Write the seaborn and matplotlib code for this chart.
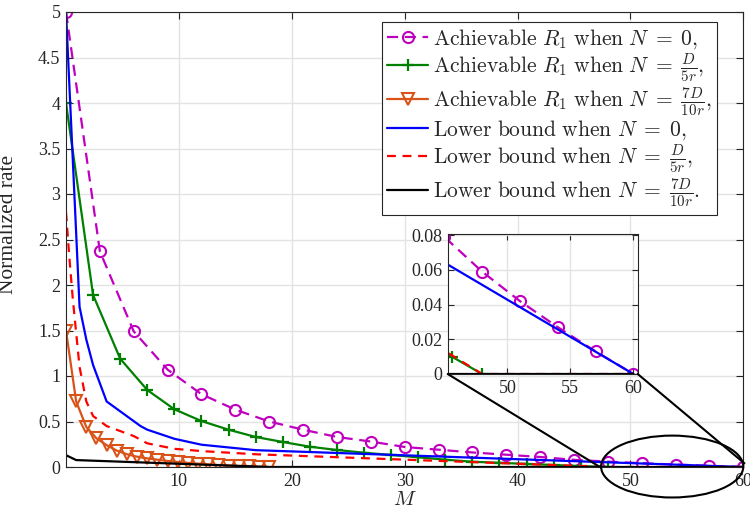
import numpy as np
import pandas as pd
import matplotlib
matplotlib.use("Agg")
import matplotlib.pyplot as plt
import seaborn as sns
from matplotlib.patches import Ellipse, ConnectionPatch

# ---------------- data ----------------
M_ach0 = [0, 3, 6, 9, 12, 15, 18, 21, 24, 27, 30, 33, 36, 39, 42, 45, 48, 51, 54, 57, 60]
R_ach0 = [5.0, 2.37, 1.49, 1.07, 0.80, 0.63, 0.50, 0.41, 0.33, 0.28, 0.22, 0.19,
          0.16, 0.135, 0.11, 0.079, 0.059, 0.042, 0.027, 0.013, 0.0]

M_ach1 = [0, 2.4, 4.8, 7.2, 9.6, 12, 14.4, 16.8, 19.2, 21.6, 24, 26.4, 28.8, 31.2,
          33.6, 36, 38.4, 40.8, 43.2, 45.6, 48]
R_ach1 = [4.0, 1.89, 1.19, 0.846, 0.634, 0.505, 0.41, 0.33, 0.275, 0.223, 0.187, 0.157,
          0.132, 0.107, 0.08, 0.058, 0.046, 0.034, 0.022, 0.010, 0.0]

M_ach2 = [0, 0.9, 1.8, 2.7, 3.6, 4.5, 5.4, 6.3, 7.2, 8.1, 9.0, 9.9, 10.8, 11.7,
          12.6, 13.5, 14.4, 15.3, 16.2, 17.1, 18]
R_ach2 = [1.5, 0.72, 0.44, 0.315, 0.24, 0.18, 0.14, 0.113, 0.095, 0.08, 0.066, 0.055,
          0.045, 0.037, 0.029, 0.022, 0.016, 0.011, 0.006, 0.003, 0.0]

M_lb0 = [0, 1.2, 1.8, 2.4, 3.6, 6.6, 7.2, 8.4, 9.6, 12, 16.8, 60]
R_lb0 = [5.0, 1.76, 1.40, 1.12, 0.72, 0.45, 0.41, 0.36, 0.31, 0.245, 0.185, 0.0]

M_lb1 = [0, 0.3, 0.6, 1.2, 1.8, 2.4, 3.6, 6.0, 7.2, 9.6, 12, 16.8, 48, 60]
R_lb1 = [2.8, 2.3, 1.85, 1.1, 0.72, 0.56, 0.45, 0.34, 0.26, 0.20, 0.175, 0.14, 0.0, 0.0]

M_lb2 = [0, 0.9, 18, 60]
R_lb2 = [0.13, 0.076, 0.0, 0.0]

labels = [
    r"$\mathrm{Achievable}\ R_1\ \mathrm{when}\ N\;=\;0,$",
    r"$\mathrm{Achievable}\ R_1\ \mathrm{when}\ N\;=\;\frac{D}{5r},$",
    r"$\mathrm{Achievable}\ R_1\ \mathrm{when}\ N\;=\;\frac{7D}{10r},$",
    r"$\mathrm{Lower\ bound\ when}\ N\;=\;0,$",
    r"$\mathrm{Lower\ bound\ when}\ N\;=\;\frac{D}{5r},$",
    r"$\mathrm{Lower\ bound\ when}\ N\;=\;\frac{7D}{10r}.$",
]

xticks_main = [10, 20, 30, 40, 50, 60]
yticks_main = [0, 0.5, 1, 1.5, 2, 2.5, 3, 3.5, 4, 4.5, 5]
yticklabels_main = ["0", "0.5", "1", "1.5", "2", "2.5", "3", "3.5", "4", "4.5", "5"]
xticks_inset = [50, 55, 60]
yticks_inset = [0, 0.02, 0.04, 0.06, 0.08]
yticklabels_inset = ["0", "0.02", "0.04", "0.06", "0.08"]

# ---------------- style ----------------
sns.set_theme(style="ticks")
plt.rcParams["font.family"] = ["Liberation Serif", "DejaVu Serif"]
plt.rcParams["mathtext.fontset"] = "cm"

series = [
    (M_ach0, R_ach0, dict(color="#bf00bf", linestyle=(0, (5, 3)), marker="o", markersize=8,
                          markerfacecolor="none", markeredgecolor="#bf00bf", markeredgewidth=1.5)),
    (M_ach1, R_ach1, dict(color="#008000", linestyle="-", marker="+", markersize=9,
                          markeredgecolor="#008000", markeredgewidth=1.6)),
    (M_ach2, R_ach2, dict(color="#D95319", linestyle="-", marker="v", markersize=8,
                          markerfacecolor="none", markeredgecolor="#D95319", markeredgewidth=1.5)),
    (M_lb0, R_lb0, dict(color="#0000ff", linestyle="-")),
    (M_lb1, R_lb1, dict(color="#ff0000", linestyle=(0, (4, 3)))),
    (M_lb2, R_lb2, dict(color="#000000", linestyle="-")),
]

fig = plt.figure(figsize=(7.5, 5.08), dpi=100)
ax = fig.add_axes([66 / 750, 1 - 467 / 508, 677.3 / 750, 455 / 508])


def draw(axis, with_labels):
    for (xs, ys, kw), lab in zip(series, labels):
        df = pd.DataFrame({"M": xs, "R": ys})
        sns.lineplot(data=df, x="M", y="R", ax=axis, errorbar=None, sort=False,
                     linewidth=1.6, label=lab if with_labels else None,
                     legend=False, **kw)


draw(ax, True)

grid_c = "#e3e3e3"
txt_c = "#262626"
ax.set_xlim(0, 60)
ax.set_ylim(0, 5)
ax.set_xticks(xticks_main)
ax.set_yticks(yticks_main)
ax.set_yticklabels(yticklabels_main)
ax.grid(True, color=grid_c, linewidth=1.0)
ax.set_axisbelow(True)
ax.tick_params(direction="in", top=True, right=True, length=5, width=0.8,
               labelsize=13, colors=txt_c, pad=4)
for sp in ax.spines.values():
    sp.set_visible(True)
    sp.set_color("#262626")
    sp.set_linewidth(0.8)
ax.set_xlabel(r"$M$", fontsize=15, color=txt_c, labelpad=0)
ax.set_ylabel("Normalized rate", fontsize=15.5, color=txt_c)
ax.yaxis.set_label_coords(-0.0716, 0.534)
ax.xaxis.set_label_coords(0.5, -0.052)

leg = ax.legend(loc="upper right", bbox_to_anchor=(0.961, 0.978), borderaxespad=0,
                fontsize=15.5, frameon=True, fancybox=False, edgecolor="#262626",
                framealpha=1, handlelength=1.9, handletextpad=0.2, labelspacing=0.02,
                borderpad=0.25)
leg.get_frame().set_linewidth(0.8)

# zoom ellipse on main axes
ell = Ellipse((53.7, 0.005), width=12.6, height=0.68, facecolor="none",
              edgecolor="black", linewidth=1.5, clip_on=False, zorder=6)
ax.add_patch(ell)

# inset
axin = fig.add_axes([447.7 / 750, 1 - 374 / 508, 190 / 750, 139.7 / 508])
axin.set_facecolor("white")
draw(axin, False)
axin.set_xlim(45.27, 60.34)
axin.set_ylim(0, 0.0805)
axin.set_xticks(xticks_inset)
axin.set_yticks(yticks_inset)
axin.set_yticklabels(yticklabels_inset)
axin.grid(True, color=grid_c, linewidth=1.0)
axin.set_axisbelow(True)
axin.tick_params(direction="in", top=True, right=True, length=4, width=0.8,
                 labelsize=13, colors=txt_c, pad=4)
for sp in axin.spines.values():
    sp.set_visible(True)
    sp.set_color("#262626")
    sp.set_linewidth(0.8)
axin.set_xlabel("")
axin.set_ylabel("")

for xyA, xyB in [((0, 0), (47.3, 0.0)), ((1, 0), (60.1, 0.04))]:
    con = ConnectionPatch(xyA=xyA, coordsA=axin.transAxes, xyB=xyB, coordsB=ax.transData,
                          color="black", linewidth=1.5, zorder=7)
    fig.add_artist(con)

fig.savefig("out.png", dpi=100)
